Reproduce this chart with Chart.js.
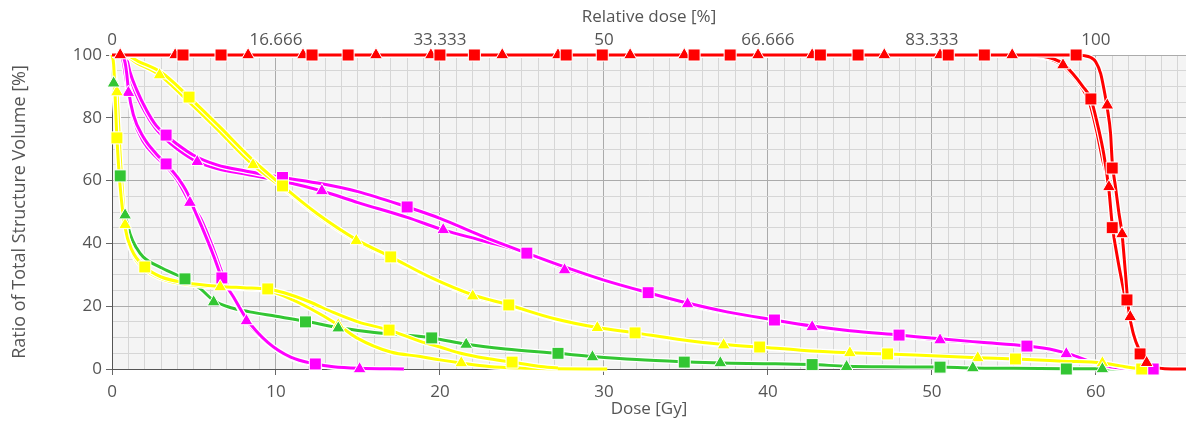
<!DOCTYPE html>
<html>
<head>
<meta charset="utf-8">
<script src="https://cdn.jsdelivr.net/npm/chart.js@4.4.1/dist/chart.umd.min.js"></script>
<style>
  html, body { margin: 0; padding: 0; background: #fff; overflow: hidden; }
  #wrap { width: 1186px; height: 423px; }
</style>
</head>
<body>
<div id="wrap"><canvas id="dvh"></canvas></div>
<script>
// Axis tick labels
const doseLabels = [0, 10, 20, 30, 40, 50, 60];
const volumeLabels = [0, 20, 40, 60, 80, 100];
const relTicks = [0, 16.666, 33.333, 50, 66.666, 83.333, 100];
const relLabels = ['0', '16.666', '33.333', '50', '66.666', '83.333', '100'];

// DVH curves [dose Gy, volume %]
const redRightLine = [[0,100],[58.5,100],[59.3,99.8],[59.7,99.2],[60.0,97.8],[60.3,94],[60.5,89],[60.7,83],[60.9,75],[61.0,66],[61.2,58],[61.4,50],[61.6,43],[61.8,31],[62.0,19],[62.3,11],[62.7,5.5],[63.1,2],[63.6,0.6],[64.2,0.1],[65.5,0]];
const redLeftSqLine = [[0,100],[55.5,100],[56.6,99.7],[57.4,98.8],[58.0,97.2],[58.6,94],[59.2,90],[59.7,86],[60.1,78],[60.5,68],[60.8,57],[61.0,46],[61.3,36],[61.7,25],[62.1,15],[62.4,9],[62.7,5],[63.1,2],[63.6,0.6],[64.2,0.1],[65.5,0]];
const redLeftTriLine = [[0,100],[55.3,100],[56.4,99.7],[57.2,98.8],[57.9,97],[58.5,94],[59.1,90],[59.6,85],[60.0,77],[60.4,67],[60.8,58],[61.0,48],[61.3,37],[61.7,26],[62.1,16.6],[62.4,10],[62.7,5.5],[63.1,2.2],[63.6,0.7],[64.2,0.1],[65.5,0]];

const yellowUpSqLine = [[0,100],[0.8,100],[1.6,98],[3.0,94.5],[4.7,86.6],[6.5,77.5],[8.5,67],[10.4,58.3],[12.5,49.5],[14.9,41.2],[17.0,35.7],[19.5,29],[22.0,23.6],[24.2,20.4],[27.0,16],[29.6,13.2],[31.9,11.5],[34.5,9.5],[37.3,7.8],[39.5,7],[42,6],[45,5.2],[47.3,4.8],[50,4.2],[52.8,3.6],[55.1,3.2],[58,2.5],[60.4,1.9],[61.5,1.0],[62.3,0.3],[63,0]];
const yellowUpTriLine = [[0,100],[0.7,100],[1.5,97.5],[2.9,93.6],[4.5,86],[6.2,77.5],[8.6,65],[10.4,57.8],[12.5,49],[14.9,40.8],[17.0,35.4],[19.5,28.8],[22.0,23.2],[24.2,20.2],[27.0,15.8],[29.6,13.1],[31.9,11.4],[34.5,9.4],[37.3,7.6],[39.5,6.9],[42,5.9],[45,5.1],[47.3,4.7],[50,4.1],[52.8,3.5],[55.1,3.1],[58,2.4],[60.4,1.9],[61.5,0.9],[62.3,0.3],[63,0]];
const yellowLowSqLine = [[0,100],[0.1,97],[0.3,73.6],[0.5,58],[0.8,45],[1.2,38],[2.0,32.5],[3,29.3],[4.5,27.5],[6.6,26.3],[8,25.9],[9.5,25.5],[10.5,24.3],[12,21.5],[13.5,18],[15,15],[16.9,12.4],[18.8,8.8],[20,7],[21.2,5.1],[22.8,3.4],[24.4,2.2],[26,0.9],[27.2,0.3]];
const yellowLowTriLine = [[0,100],[0.1,96],[0.3,88.2],[0.5,68],[0.8,45.9],[1.2,37.5],[2.0,31.8],[3,28.8],[4.5,27],[6.6,26.1],[8,25.6],[9.5,25],[10.5,23.2],[12,19.5],[13.8,14],[14.9,10],[17,5.4],[18.8,4],[20,2.9],[21.3,1.9],[23,0.8],[24.9,0.3],[27,0.1],[30.2,0]];

const magentaLowSqLine = [[0,100],[0.6,100],[0.8,97.5],[0.9,94],[1.0,89],[1.3,81],[1.9,74],[2.7,68.5],[3.3,65.3],[4.0,61],[4.6,56],[5.0,51],[5.5,45],[6.2,36],[6.7,29],[7.4,23],[8.2,16],[9.5,8.5],[10.9,3.8],[12.4,1.6],[13.5,0.7],[15.1,0.2],[17.8,0]];
const magentaLowTriLine = [[0,100],[0.5,100],[0.7,97.5],[0.8,94],[1.0,88],[1.3,80],[1.9,72.5],[2.7,67.5],[3.3,64.5],[4.0,60],[4.75,53],[5.4,48],[6.2,38],[6.8,29.5],[7.4,23],[8.2,15.3],[9.5,8.3],[10.9,3.5],[12.4,1.4],[13.5,0.6],[15.1,0.1],[17.8,0]];
const magentaUpSqLine = [[0,100],[0.8,100],[0.95,97.8],[1.1,94.5],[1.5,89],[2.1,82.5],[2.7,77.5],[3.3,74.5],[4.0,71.5],[5.0,68],[6.4,65],[8.2,63],[10.4,61],[12.8,59],[15.0,56.5],[18.0,51.6],[20.0,48],[22.5,42.5],[25.3,36.9],[27.6,32.5],[30.0,28.3],[32.7,24.3],[35.1,21],[37.5,18.2],[40.4,15.6],[42.7,13.7],[45.0,12.2],[48.0,10.8],[50.5,9.6],[53.0,8.5],[55.8,7.3],[57.5,6],[58.5,4.6],[59.6,2.5],[60.5,1.1],[61.5,0.3],[62.5,0.05],[64,0]];
const magentaUpTriLine = [[0,100],[0.7,100],[0.9,97.5],[1.05,94],[1.4,88.5],[2.0,82],[2.6,77],[3.3,73],[4.0,70],[5.2,66],[6.4,63.8],[8.2,62],[10.4,59.8],[12.8,56.7],[15.0,53],[18.0,48.3],[20.2,44.3],[22.5,41],[25.3,36.9],[27.6,32],[30.0,28.3],[32.7,24.3],[35.1,20.7],[37.5,18],[40.4,15.5],[42.7,13.4],[45.0,12],[48.0,10.7],[50.5,9.2],[53.0,8.3],[55.8,7.2],[57.5,5.8],[58.2,4.8],[59.6,2.4],[60.5,1.0],[61.5,0.3],[62.5,0.05],[64,0]];

const greenLine = [[0,100],[0.03,98],[0.1,91],[0.2,83],[0.3,75],[0.5,62],[0.7,53],[0.8,49.5],[1.1,43],[1.5,38.5],[1.9,35.7],[3.1,32],[4.45,28.7],[5.4,25.5],[6.2,21.8],[7.2,19.6],[8.4,18.2],[10,16.8],[11.8,15.2],[13.8,13.2],[16,11.6],[19.5,9.9],[21.6,7.9],[24,6.4],[27.2,5],[29.3,4],[32,3],[34.9,2.3],[37.1,1.9],[40,1.7],[42.7,1.4],[44.8,0.9],[47,0.7],[50.5,0.6],[52.5,0.3],[55,0.2],[58.2,0.1],[60.4,0.05],[63,0]];

// Marker positions [dose Gy, volume %]
const redRightSqMarks = [[4.33,100],[12.2,100],[20.0,100],[27.7,100],[35.5,100],[43.2,100],[51.0,100],[58.8,100],[61.0,64],[61.9,22]];
const redRightTriMarks = [[0.5,100],[8.3,100],[16.1,100],[23.8,100],[31.6,100],[39.4,100],[47.1,100],[54.9,100],[60.7,84],[61.6,43],[63.1,2]];
const redLeftSqMarks = [[6.65,100],[14.4,100],[22.1,100],[29.9,100],[37.7,100],[45.5,100],[53.2,100],[59.7,86],[61.0,45],[62.7,4.8]];
const redLeftTriMarks = [[3.85,100],[11.65,100],[19.45,100],[27.2,100],[34.9,100],[42.7,100],[50.5,100],[58.0,96.8],[60.8,58],[62.1,16.6]];
const yellowUpSqMarks = [[4.7,86.6],[10.4,58.3],[17.0,35.7],[24.2,20.4],[31.9,11.5],[39.5,7],[47.3,4.8],[55.1,3.2],[62.8,0]];
const yellowUpTriMarks = [[2.9,93.6],[8.6,65],[14.9,40.8],[22.0,23.2],[29.6,13.1],[37.3,7.6],[45.0,5.1],[52.8,3.5],[60.4,1.9]];
const yellowLowSqMarks = [[0.3,73.6],[2.0,32.5],[9.5,25.5],[16.9,12.4],[24.4,2.2]];
const yellowLowTriMarks = [[0.3,88.2],[0.8,45.9],[6.6,26.1],[13.8,14],[21.3,1.9]];
const magentaLowSqMarks = [[3.3,65.3],[6.7,29],[12.4,1.6]];
const magentaLowTriMarks = [[1.0,88],[4.75,53],[8.2,15.3],[15.1,0]];
const magentaUpSqMarks = [[3.3,74.5],[10.4,61],[18.0,51.6],[25.3,36.9],[32.7,24.3],[40.4,15.6],[48.0,10.8],[55.8,7.3],[63.5,0]];
const magentaUpTriMarks = [[5.2,66],[12.8,56.7],[20.2,44.3],[27.6,31.5],[35.1,20.7],[42.7,13.4],[50.5,9.2],[58.2,4.8]];
const greenSqMarks = [[0.5,61.5],[4.45,28.7],[11.8,15],[19.5,9.9],[27.2,5],[34.9,2.2],[42.7,1.4],[50.5,0.6],[58.2,0]];
const greenTriMarks = [[0.1,91],[0.8,49],[6.2,21.3],[13.8,13],[21.6,7.8],[29.3,3.8],[37.1,1.9],[44.8,0.7],[52.5,0.3],[60.4,0]];

const RED = '#ff0000';
const YELLOW = '#ffff00';
const MAGENTA = '#ff00ff';
const GREEN = '#33c633';
const TEXT = '#555555';
const MAJOR = '#ababab';
const MINOR = '#d6d6d6';
const FONT = 'Open Sans';

function toXY(arr) {
    return arr.map(p => ({ x: p[0], y: p[1] }));
}

// lines listed from top layer to bottom layer
const lineList = [
    [redRightLine, RED], [redLeftSqLine, RED], [redLeftTriLine, RED],
    [yellowUpSqLine, YELLOW], [yellowUpTriLine, YELLOW], [yellowLowSqLine, YELLOW], [yellowLowTriLine, YELLOW],
    [magentaLowSqLine, MAGENTA], [magentaLowTriLine, MAGENTA], [magentaUpSqLine, MAGENTA], [magentaUpTriLine, MAGENTA],
    [greenLine, GREEN]
];

const markList = [
    [redRightSqMarks, RED, 'rect'], [redRightTriMarks, RED, 'triangle'],
    [redLeftSqMarks, RED, 'rect'], [redLeftTriMarks, RED, 'triangle'],
    [greenSqMarks, GREEN, 'rect'], [greenTriMarks, GREEN, 'triangle'],
    [yellowUpSqMarks, YELLOW, 'rect'], [yellowUpTriMarks, YELLOW, 'triangle'],
    [yellowLowSqMarks, YELLOW, 'rect'], [yellowLowTriMarks, YELLOW, 'triangle'],
    [magentaLowSqMarks, MAGENTA, 'rect'], [magentaLowTriMarks, MAGENTA, 'triangle'],
    [magentaUpSqMarks, MAGENTA, 'rect'], [magentaUpTriMarks, MAGENTA, 'triangle']
];

const datasets = [];
markList.forEach(([pts, color, shape], i) => {
    datasets.push({
        data: toXY(pts),
        showLine: false,
        pointStyle: shape,
        pointRadius: shape === 'rect' ? 8.5 : 7.5,
        backgroundColor: color,
        borderColor: '#ffffff',
        borderWidth: 1,
        order: 1 + i,
        clip: false
    });
});
lineList.forEach(([pts, color], i) => {
    const base = {
        data: toXY(pts),
        showLine: true,
        pointRadius: 0,
        cubicInterpolationMode: 'monotone',
        clip: 8
    };
    datasets.push(Object.assign({}, base, { borderColor: color, borderWidth: 3, order: 100 + 2 * i }));
    datasets.push(Object.assign({}, base, { borderColor: '#ffffff', borderWidth: 5.5, order: 101 + 2 * i }));
});

const plotBackground = {
    id: 'plotBackground',
    beforeDraw(chart) {
        const { ctx, chartArea: a } = chart;
        ctx.save();
        ctx.fillStyle = '#f4f4f4';
        ctx.fillRect(a.left, a.top, a.right - a.left, a.bottom - a.top);
        ctx.restore();
    }
};

const tickFont = { family: FONT, size: 17 };
const titleFont = { family: FONT, size: 17 };

new Chart(document.getElementById('dvh'), {
    type: 'scatter',
    data: { datasets: datasets },
    plugins: [plotBackground],
    options: {
        responsive: true,
        maintainAspectRatio: false,
        animation: false,
        layout: { padding: 0, autoPadding: false },
        plugins: {
            legend: { display: false },
            tooltip: { enabled: false }
        },
        scales: {
            x: {
                type: 'linear',
                position: 'bottom',
                bounds: 'data',
                min: 0,
                max: 65.5,
                ticks: {
                    stepSize: 1,
                    includeBounds: false,
                    autoSkip: false,
                    maxRotation: 0,
                    padding: 7,
                    color: TEXT,
                    font: tickFont,
                    callback: v => doseLabels.includes(v) ? String(v) : ''
                },
                grid: {
                    color: c => (c.tick && c.tick.value % 10 === 0) ? MAJOR : MINOR,
                    tickLength: 6,
                    tickColor: c => (c.tick && doseLabels.includes(c.tick.value)) ? '#666' : 'rgba(0,0,0,0)'
                },
                border: { color: '#555', width: 1 },
                title: {
                    display: true,
                    text: 'Dose [Gy]',
                    color: TEXT,
                    font: titleFont,
                    padding: { top: 0, bottom: 4 }
                },
                afterFit: s => { s.height = 54; }
            },
            x2: {
                type: 'linear',
                position: 'top',
                bounds: 'data',
                min: 0,
                max: 65.5 * 100 / 60,
                afterBuildTicks: s => { s.ticks = relTicks.map(v => ({ value: v })); },
                ticks: {
                    autoSkip: false,
                    maxRotation: 0,
                    padding: 5,
                    color: TEXT,
                    font: tickFont,
                    callback: (v, i) => relLabels[i]
                },
                grid: { drawOnChartArea: false, drawTicks: false, color: 'rgba(0,0,0,0)' },
                border: { display: false },
                title: {
                    display: true,
                    text: 'Relative dose [%]',
                    color: TEXT,
                    font: titleFont,
                    padding: { top: 7, bottom: 0 }
                },
                afterFit: s => { s.height = 55; }
            },
            y: {
                min: 0,
                max: 100,
                ticks: {
                    stepSize: 5,
                    autoSkip: false,
                    padding: 4,
                    color: TEXT,
                    font: tickFont,
                    callback: v => volumeLabels.includes(v) ? String(v) : ''
                },
                grid: {
                    color: c => (c.tick && c.tick.value % 20 === 0) ? MAJOR : MINOR,
                    tickLength: 6,
                    tickColor: c => (c.tick && volumeLabels.includes(c.tick.value)) ? '#666' : 'rgba(0,0,0,0)'
                },
                border: { color: '#555', width: 1 },
                title: {
                    display: true,
                    text: 'Ratio of Total Structure Volume [%]',
                    color: TEXT,
                    font: { family: FONT, size: 18 },
                    padding: { top: 9, bottom: 0 }
                },
                afterFit: s => { s.width = 112; }
            }
        }
    }
});
</script>
</body>
</html>
